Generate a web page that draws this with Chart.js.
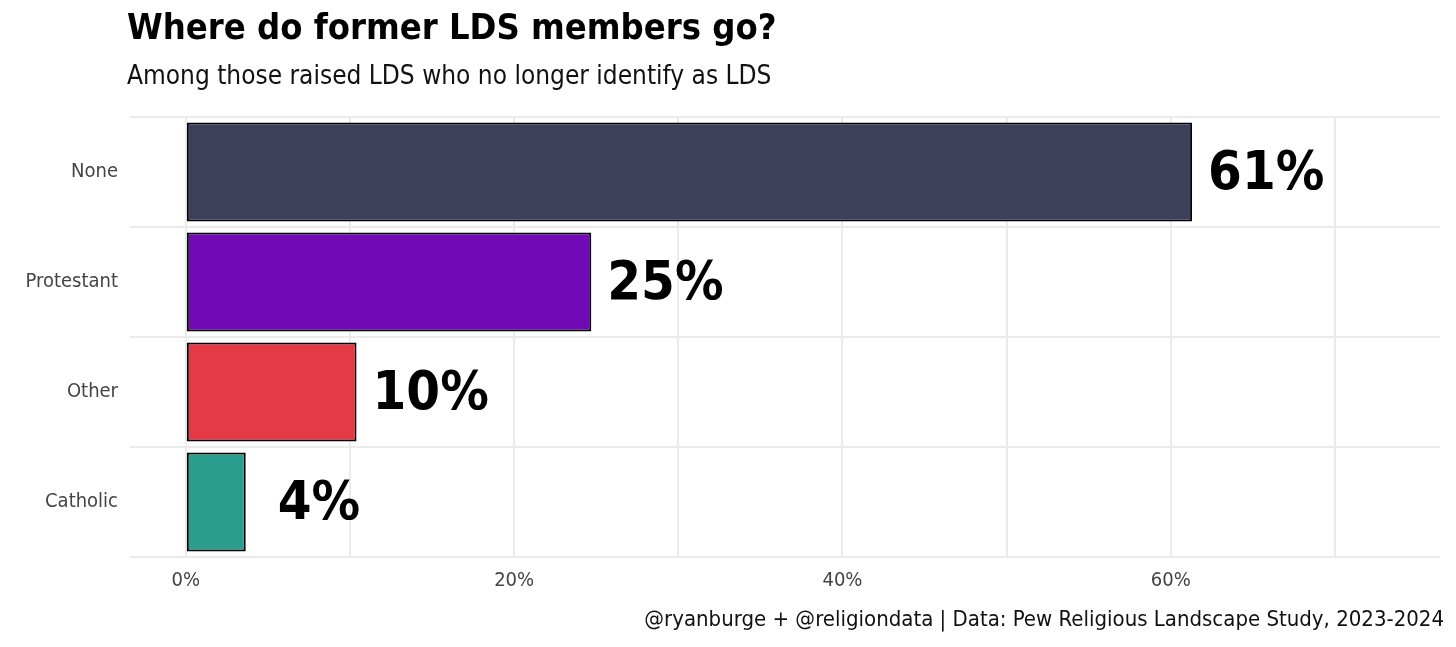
<!DOCTYPE html>
<html>
<head>
<meta charset="utf-8">
<script src="https://cdn.jsdelivr.net/npm/chart.js@4/dist/chart.umd.min.js"></script>
<style>
  body { margin: 0; background: #fff; font-family: "DejaVu Sans Condensed", "Roboto", sans-serif; }
  #wrap { position: relative; width: 1456px; height: 647px; }
  #title { position: absolute; left: 127px; top: 6px; font-size: 36px; font-weight: bold; color: #000; }
  #subtitle { position: absolute; left: 127px; top: 60px; font-size: 26px; color: #111; }
  #caption { position: absolute; right: 12px; top: 606px; font-size: 22px; color: #111; }
  canvas { position: absolute; left: 0; top: 0; }
</style>
</head>
<body>
<div id="wrap">
  <canvas id="chart" width="1456" height="647"></canvas>
  <div id="title">Where do former LDS members go?</div>
  <div id="subtitle">Among those raised LDS who no longer identify as LDS</div>
  <div id="caption">@ryanburge + @religiondata | Data: Pew Religious Landscape Study, 2023-2024</div>
</div>
<script>
// dados do gráfico
const categories = ['None', 'Protestant', 'Other', 'Catholic'];
const shares = [61.3, 24.7, 10.4, 3.65];
const shareLabels = ['61%', '25%', '10%', '4%'];
const labelOffsets = [16, 16, 16, 32];
const barColors = ['#3d405b', '#7209b7', '#e63946', '#2a9d8f'];
const gridTicks = [0, 10, 20, 30, 40, 50, 60, 70];

const fontFamily = '"DejaVu Sans Condensed", "Roboto", sans-serif';

// rótulos grandes no fim das barras
const valueLabels = {
    id: 'valueLabels',
    afterDatasetsDraw(chart) {
        const ctx = chart.ctx;
        const meta = chart.getDatasetMeta(0);
        ctx.save();
        ctx.font = 'bold 54px ' + fontFamily;
        ctx.fillStyle = '#000';
        ctx.textBaseline = 'middle';
        ctx.textAlign = 'left';
        meta.data.forEach((bar, i) => {
            ctx.fillText(shareLabels[i], bar.x + labelOffsets[i], bar.y + 3);
        });
        ctx.restore();
    }
};

new Chart(document.getElementById('chart').getContext('2d'), {
    type: 'bar',
    data: {
        labels: categories,
        datasets: [{
            data: shares,
            backgroundColor: barColors,
            borderColor: '#000',
            borderWidth: 2,
            borderSkipped: false,
            categoryPercentage: 0.9,
            barPercentage: 1.0
        }]
    },
    options: {
        indexAxis: 'y',
        responsive: false,
        animation: false,
        layout: { padding: { top: 117, right: 16, bottom: 0, left: 0 } },
        plugins: { legend: { display: false }, tooltip: { enabled: false } },
        scales: {
            x: {
                min: -3.4,
                max: 76.4,
                afterBuildTicks: (scale) => { scale.ticks = gridTicks.map(v => ({ value: v })); },
                afterFit: (scale) => { scale.height = 90; },
                grid: { color: '#ebebeb', lineWidth: 2, drawTicks: false },
                border: { display: false },
                ticks: {
                    padding: 12,
                    color: '#444',
                    font: { family: fontFamily, size: 20 },
                    callback: (v) => (v % 20 === 0 ? v + '%' : '')
                }
            },
            y: {
                afterFit: (scale) => { scale.width = 130; },
                grid: { color: '#ebebeb', lineWidth: 2, drawTicks: false },
                border: { display: false },
                ticks: {
                    padding: 12,
                    color: '#444',
                    font: { family: fontFamily, size: 20 }
                }
            }
        }
    },
    plugins: [valueLabels]
});
</script>
</body>
</html>
